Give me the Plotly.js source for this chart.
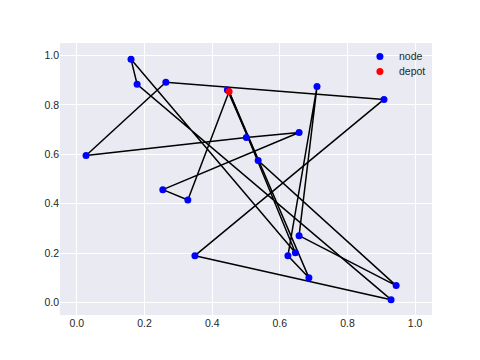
<!DOCTYPE html>
<html>
<head>
<meta charset="utf-8">
<script src="https://cdn.plot.ly/plotly-3.0.1.min.js"></script>
<style>html,body{margin:0;padding:0;background:#fff;}#chart{width:480px;height:360px;}</style>
</head>
<body>
<div id="chart"></div>
<script>
// Customer nodes
const nodeX = [0.160, 0.178, 0.263, 0.027, 0.710, 0.908, 0.657, 0.501, 0.536, 0.254,
               0.328, 0.349, 0.657, 0.646, 0.624, 0.686, 0.944, 0.929, 0.445];
const nodeY = [0.984, 0.883, 0.891, 0.595, 0.874, 0.822, 0.688, 0.668, 0.575, 0.457,
               0.415, 0.190, 0.271, 0.202, 0.190, 0.101, 0.069, 0.012, 0.860];
// Depot
const depotX = [0.450];
const depotY = [0.854];
// Routes: node indices visited between depot departures/returns
const route1 = [10, 9, 6, 7, 3, 2, 5, 11, 17, 1, 0, 13];
const route2 = [18, 8, 16, 12, 4, 14, 15];
const routes = [route1, route2];
const legendNames = ["node", "depot"];
const legendColors = ["#0000ff", "#ff0000"];

const lx = [], ly = [];
routes.forEach(r => {
  lx.push(depotX[0]); ly.push(depotY[0]);
  r.forEach(i => { lx.push(nodeX[i]); ly.push(nodeY[i]); });
  lx.push(depotX[0]); ly.push(depotY[0]);
  lx.push(null); ly.push(null);
});

const traces = [
  {x: lx, y: ly, mode: 'lines', type: 'scatter', showlegend: false,
   line: {color: '#000000', width: 1.5}, hoverinfo: 'skip'},
  {x: nodeX, y: nodeY, mode: 'markers', type: 'scatter', name: legendNames[0], showlegend: false,
   marker: {color: legendColors[0], size: 7}},
  {x: depotX, y: depotY, mode: 'markers', type: 'scatter', name: legendNames[1], showlegend: false,
   marker: {color: legendColors[1], size: 7}}
];

const fontFam = 'Liberation Sans, Arial, sans-serif';
const axisCommon = {
  showgrid: true, gridcolor: '#ffffff', gridwidth: 1, zeroline: false,
  showline: false, ticks: '', tickfont: {family: fontFam, size: 10.5, color: '#262626'},
  tickformat: '.1f', dtick: 0.2, tick0: 0
};

// legend drawn as paper-anchored markers + text
const legX = 0.860, legTextX = 0.906;
const legY = [0.950, 0.895];
const shapes = legendNames.map((n, k) => ({
  type: 'circle', xref: 'paper', yref: 'paper', xsizemode: 'pixel', ysizemode: 'pixel',
  xanchor: legX, yanchor: legY[k], x0: -3.5, x1: 3.5, y0: -3.5, y1: 3.5,
  fillcolor: legendColors[k], line: {width: 0}
}));
const annotations = legendNames.map((n, k) => ({
  xref: 'paper', yref: 'paper', x: legTextX, y: legY[k] + 0.003, xanchor: 'left', yanchor: 'middle',
  text: n, showarrow: false, font: {family: fontFam, size: 10.5, color: '#262626'}
}));

const layout = {
  width: 480, height: 360,
  paper_bgcolor: '#ffffff', plot_bgcolor: '#eaeaf2',
  margin: {l: 60, r: 48, t: 43, b: 45},
  xaxis: Object.assign({}, axisCommon, {range: [-0.05, 1.05]}),
  yaxis: Object.assign({}, axisCommon, {range: [-0.05, 1.05]}),
  showlegend: false,
  shapes: shapes,
  annotations: annotations
};

Plotly.newPlot('chart', traces, layout, {displayModeBar: false, staticPlot: true});
</script>
</body>
</html>
